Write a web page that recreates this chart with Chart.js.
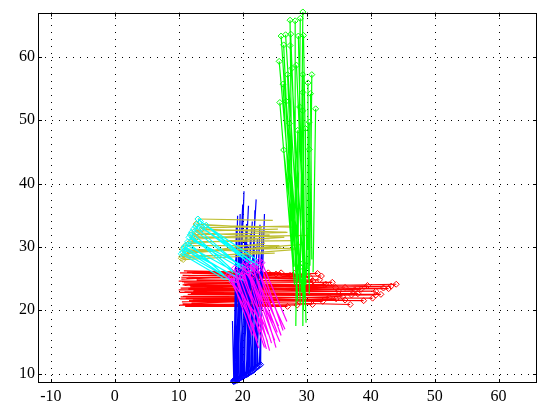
<!DOCTYPE html>
<html>
<head>
<meta charset="utf-8">
<script src="https://cdn.jsdelivr.net/npm/chart.js@4"></script>
<style>
  html, body { margin: 0; padding: 0; background: #fff; }
  canvas { display: block; }
</style>
</head>
<body>
<canvas id="tracks" width="539" height="412"></canvas>
<script>
const xTicks = [-10, 0, 10, 20, 30, 40, 50, 60];
const yTicks = [10, 20, 30, 40, 50, 60];

// each track: start point -> end point (marker at the end)
const redStart = [[10.2,25.9],[10.8,26.2],[11.5,25.4],[10.4,24.9],[11.2,25.1],[10.0,24.6],[12.0,24.2],[10.6,24.0],
  [11.8,23.7],[10.3,23.5],[11.0,23.2],[12.3,23.0],[10.1,22.8],[11.4,22.5],[10.7,22.2],[12.6,22.0],[10.2,21.8],
  [11.6,21.5],[10.5,21.3],[12.0,21.1],[10.1,20.8],[11.0,20.6],[12.4,20.9],[10.9,23.9],[11.3,24.5],[10.6,25.5],
  [12.1,25.8],[10.3,22.1],[11.9,22.7],[10.8,24.3],[11.5,23.4],[12.8,24.8],[10.4,25.2],[11.7,24.0],[10.9,22.9],
  [12.2,21.6],[10.6,21.0],[11.3,26.0],[10.0,23.2],[12.5,23.5],[11.1,21.9],[10.5,24.5]];
const redEnd = [[25.2,25.7],[26.0,25.9],[28.1,25.8],[31.7,25.8],[32.3,25.4],[32.0,24.8],[32.8,24.0],[29.6,25.6],
  [33.0,24.1],[44.0,24.1],[43.2,23.8],[42.0,23.5],[40.8,23.0],[41.6,22.5],[40.8,22.4],[40.3,21.9],[38.9,21.5],
  [36.8,20.9],[35.6,22.2],[34.6,21.8],[30.9,20.9],[27.0,20.6],[24.4,21.0],[37.5,23.2],[36.0,23.6],[30.5,25.2],
  [27.4,25.5],[33.5,22.0],[38.0,22.6],[39.5,23.9],[35.0,23.0],[31.0,24.6],[29.0,25.0],[34.5,23.6],[37.0,22.4],
  [32.5,21.4],[28.5,20.8],[24.0,25.9],[42.8,23.4],[38.5,23.3],[36.0,21.6],[34.0,24.4]];

const blueStart = [[20.2,38.8],[20.0,36.7],[19.6,35.2],[19.2,34.9],[20.9,36.5],[22.1,37.5],[23.4,35.2],[21.5,34.0],
  [19.0,33.2],[22.7,33.5],[20.5,32.5],[21.2,32.0],[19.4,31.5],[22.3,31.2],[20.8,30.4],[19.1,30.0],[21.8,29.5],
  [22.9,29.0],[20.1,28.7],[18.9,28.0],[21.0,27.5],[19.7,26.6],[22.4,26.0],[20.4,25.0],[18.4,18.3],[21.6,24.0],
  [19.3,23.0],[22.0,22.5],[20.6,33.6],[21.9,35.8],[23.0,32.6],[19.8,29.2],[20.3,31.0],[22.6,30.5],[19.5,27.5],
  [21.3,26.0],[20.9,29.0],[22.2,28.0]];
const blueEnd = [[19.2,9.0],[18.8,8.8],[19.0,9.2],[18.6,8.7],[19.6,9.3],[20.5,9.8],[22.6,11.3],[20.0,9.5],
  [18.7,9.0],[21.8,10.6],[19.8,9.4],[20.8,10.0],[19.1,8.9],[21.2,10.2],[20.2,9.6],[18.9,9.1],[21.5,10.4],
  [22.2,11.0],[19.5,9.2],[18.6,8.8],[20.7,9.9],[19.3,9.1],[21.9,10.7],[20.1,9.5],[18.6,8.9],[21.0,10.1],
  [19.0,9.0],[22.4,11.1],[20.3,9.7],[21.4,10.3],[22.8,11.4],[19.7,9.4],[19.9,9.5],[22.0,10.9],[19.2,9.0],
  [20.9,10.0],[20.6,9.8],[21.7,10.5]];

const greenStart = [[29.0,26.0],[28.6,24.5],[28.2,27.0],[27.8,28.0],[28.5,25.5],[29.2,23.0],[28.8,28.5],[29.6,22.0],
  [30.1,26.5],[28.0,26.8],[29.4,27.5],[28.3,29.0],[29.0,21.0],[29.9,24.0],[30.5,27.0],[28.4,23.5],[29.7,25.0],
  [27.9,25.8],[30.2,29.5],[29.5,20.0],[30.8,28.0],[28.1,24.0],[28.7,27.6],[29.9,18.0],[31.0,26.0],[29.3,17.6],
  [30.4,22.5],[28.3,17.5],[30.0,25.5],[28.6,21.4],[28.5,26.5],[30.3,24.8],[29.2,22.8],[28.9,24.2]];
const greenEnd = [[29.4,67.1],[29.0,66.1],[28.2,65.7],[27.4,65.8],[26.0,63.3],[26.7,63.5],[27.5,63.6],[28.7,63.3],
  [29.5,63.4],[26.4,61.9],[27.4,61.8],[25.7,59.3],[27.7,58.2],[28.4,58.7],[30.8,57.2],[27.0,57.2],[29.4,57.2],
  [26.3,55.7],[30.2,55.9],[29.4,54.4],[30.6,54.2],[25.8,52.8],[26.8,53.0],[28.9,52.1],[31.4,51.8],[29.4,51.5],
  [30.4,49.7],[28.6,48.4],[29.8,48.7],[27.3,49.5],[26.4,45.3],[30.4,45.4],[29.4,27.4],[29.0,26.8]];

const yellowStart = [[24.7,34.2],[27.8,33.1],[26.8,32.3],[26.5,31.5],[24.2,31.3],[28.6,29.8],[27.8,31.0],[22.6,29.2],
  [25.7,30.2],[24.2,31.9],[27.6,33.3],[27.0,32.3],[28.6,29.6],[26.2,31.5],[23.5,30.6],[25.0,29.0],[29.5,30.4],
  [23.0,33.0],[25.5,32.8],[21.5,28.6],[30.5,31.8],[26.0,30.0]];
const yellowEnd = [[13.0,34.4],[14.3,33.4],[13.6,32.8],[12.9,32.2],[12.4,31.6],[11.2,29.4],[11.9,30.8],[10.6,29.7],
  [11.0,30.2],[12.2,31.2],[13.2,33.0],[12.0,31.9],[10.4,28.2],[11.5,30.5],[10.8,28.8],[10.5,28.5],[11.3,29.0],
  [12.7,33.6],[12.5,32.5],[10.7,28.0],[12.8,31.5],[11.1,29.2]];

const cyanStart = [[21.6,27.4],[20.8,27.6],[22.3,27.9],[19.8,26.8],[18.2,24.5],[19.2,25.6],[20.5,26.2],[17.6,25.1],
  [21.0,26.5],[18.8,24.4],[20.0,25.4],[22.0,26.7],[19.5,24.8],[18.5,25.9],[21.3,25.7],[17.3,24.8],[20.3,24.6],
  [22.6,27.0]];
const cyanEnd = [[13.0,34.4],[14.3,33.4],[13.4,34.0],[12.6,33.2],[11.4,30.8],[12.0,32.3],[12.3,32.8],[10.8,29.8],
  [11.6,31.5],[10.6,29.2],[11.2,30.3],[12.9,33.6],[10.9,30.0],[11.8,31.9],[12.2,31.0],[10.4,28.9],[11.0,29.5],
  [13.6,33.0]];

const magentaStart = [[26.0,16.0],[25.2,14.1],[23.7,13.9],[26.3,16.8],[25.0,15.2],[23.4,14.1],[22.3,15.2],[21.8,17.3],
  [24.5,14.8],[25.6,17.5],[24.0,16.2],[22.8,16.5],[26.6,17.0],[24.8,18.0],[23.2,17.8],[25.4,16.5],[23.9,15.0],
  [22.5,14.0],[26.9,18.2],[24.2,13.6],[21.5,16.0],[25.8,15.0]];
const magentaEnd = [[22.1,27.1],[21.6,26.9],[20.2,26.0],[22.6,27.8],[20.8,26.5],[19.4,25.6],[18.7,26.6],[17.7,25.5],
  [20.5,27.6],[21.2,27.3],[19.8,26.2],[18.9,25.0],[22.4,26.3],[20.0,27.0],[18.4,24.4],[21.8,26.0],[19.9,25.4],
  [19.0,24.8],[23.0,27.5],[20.9,25.8],[18.2,25.2],[21.4,25.3]];

function tracks(starts, ends) {
    const pts = [];
    starts.forEach((s, i) => {
        pts.push({ x: s[0], y: s[1] }, { x: ends[i][0], y: ends[i][1] }, { x: null, y: null });
    });
    return pts;
}

function trackSet(label, starts, ends, color) {
    return {
        label: label,
        data: tracks(starts, ends),
        borderColor: color,
        borderWidth: 1.2,
        spanGaps: false,
        pointStyle: 'rectRot',
        pointRadius: (ctx) => (ctx.dataIndex % 3 === 1 ? 3 : 0),
        pointHoverRadius: 0,
        pointBorderColor: color,
        pointBorderWidth: 1,
        pointBackgroundColor: 'rgba(255,255,255,0)',
        clip: false
    };
}

const axesFrame = {
    id: 'axesFrame',
    beforeDatasetsDraw(chart) {
        const { ctx, chartArea: a, scales } = chart;
        ctx.save();
        ctx.strokeStyle = '#000';
        ctx.lineWidth = 1;
        ctx.setLineDash([1, 6]);
        xTicks.forEach((v) => {
            const px = Math.round(scales.x.getPixelForValue(v)) + 0.5;
            ctx.beginPath();
            ctx.moveTo(px, a.bottom);
            ctx.lineTo(px, a.top);
            ctx.stroke();
        });
        yTicks.forEach((v) => {
            const py = Math.round(scales.y.getPixelForValue(v)) + 0.5;
            ctx.beginPath();
            ctx.moveTo(a.left, py);
            ctx.lineTo(a.right, py);
            ctx.stroke();
        });
        ctx.restore();
    },
    afterDatasetsDraw(chart) {
        const { ctx, chartArea: a, scales } = chart;
        const t = 4;
        ctx.save();
        ctx.strokeStyle = '#000';
        ctx.lineWidth = 1;
        ctx.setLineDash([]);
        ctx.beginPath();
        xTicks.forEach((v) => {
            const px = Math.round(scales.x.getPixelForValue(v)) + 0.5;
            ctx.moveTo(px, a.bottom);
            ctx.lineTo(px, a.bottom - t);
            ctx.moveTo(px, a.top);
            ctx.lineTo(px, a.top + t);
        });
        yTicks.forEach((v) => {
            const py = Math.round(scales.y.getPixelForValue(v)) + 0.5;
            ctx.moveTo(a.left, py);
            ctx.lineTo(a.left + t, py);
            ctx.moveTo(a.right, py);
            ctx.lineTo(a.right - t, py);
        });
        ctx.stroke();
        ctx.strokeRect(Math.round(a.left) + 0.5, Math.round(a.top) + 0.5,
            Math.round(a.right - a.left) - 1, Math.round(a.bottom - a.top) - 1);
        ctx.restore();
    }
};

const tickFont = { family: 'Liberation Serif', size: 16 };

new Chart(document.getElementById('tracks'), {
    type: 'line',
    data: {
        datasets: [
            trackSet('magenta', magentaStart, magentaEnd, '#ff00ff'),
            trackSet('green', greenStart, greenEnd, '#00ff00'),
            trackSet('cyan', cyanStart, cyanEnd, '#00ffff'),
            trackSet('yellow', yellowStart, yellowEnd, 'rgb(190,190,50)'),
            trackSet('blue', blueStart, blueEnd, '#0000ff'),
            trackSet('red', redStart, redEnd, '#ff0000')
        ]
    },
    options: {
        responsive: false,
        devicePixelRatio: 1,
        animation: false,
        layout: { padding: { left: 0, right: 2, top: 7, bottom: 0 } },
        plugins: {
            legend: { display: false },
            tooltip: { enabled: false }
        },
        scales: {
            x: {
                type: 'linear',
                min: -12,
                max: 66,
                grid: { display: false, drawTicks: false },
                border: { display: false },
                afterBuildTicks: (scale) => { scale.ticks = xTicks.map((v) => ({ value: v })); },
                afterFit: (scale) => { scale.height = 29; },
                ticks: { font: tickFont, color: '#000', padding: 4, maxRotation: 0 }
            },
            y: {
                type: 'linear',
                min: 8.5,
                max: 67,
                grid: { display: false, drawTicks: false },
                border: { display: false },
                afterBuildTicks: (scale) => { scale.ticks = yTicks.map((v) => ({ value: v })); },
                afterFit: (scale) => { scale.width = 38; },
                ticks: { font: tickFont, color: '#000', padding: 3 }
            }
        }
    },
    plugins: [axesFrame]
});
</script>
</body>
</html>
